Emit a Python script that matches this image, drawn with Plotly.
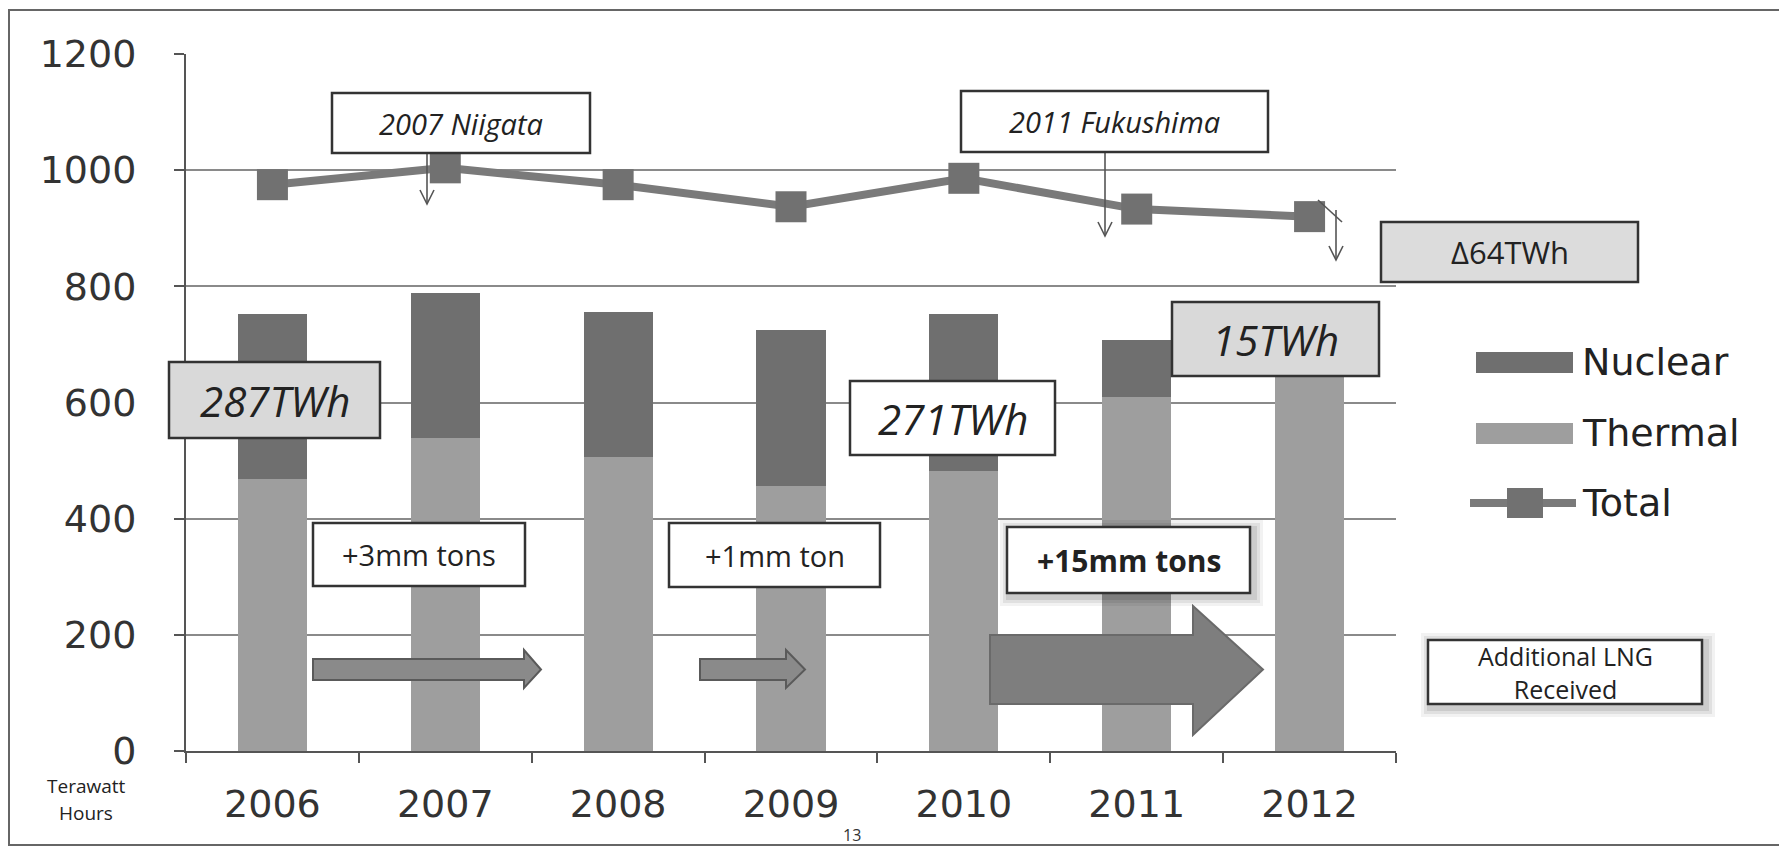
import plotly.graph_objects as go

years = ["2006", "2007", "2008", "2009", "2010", "2011", "2012"]
thermal = [469, 539, 506, 457, 482, 610, 660]
nuclear = [284, 249, 249, 267, 271, 98, 15]
total = [975, 1004, 975, 937, 986, 933, 920]
y_ticks = [0, 200, 400, 600, 800, 1000, 1200]

C_NUC = "#6f6f6f"
C_THE = "#9e9e9e"
C_LINE = "#7a7a7a"
C_MARK = "#717171"

OFF = 8  # page body margin
W, H = 1787 - OFF, 847 - OFF
L, R, T, B = 186, 1396, 54, 751  # plot area in screen pixels
PW, PH = R - L, B - T


def px(x):
    return (x - L) / PW


def py(y):
    return (B - y) / PH


fig = go.Figure()
fig.add_trace(go.Bar(x=years, y=thermal, name="Thermal", marker=dict(color=C_THE, line=dict(width=0))))
fig.add_trace(go.Bar(x=years, y=nuclear, name="Nuclear", marker=dict(color=C_NUC, line=dict(width=0))))
fig.add_trace(go.Scatter(x=years, y=total, name="Total", mode="lines+markers",
                         line=dict(color=C_LINE, width=8),
                         marker=dict(symbol="square", size=31, color=C_MARK)))

shapes = []
annotations = []


def rect(x0, y0, x1, y1, fill="white", line="#333333", lw=2.5, layer="above"):
    shapes.append(dict(type="rect", xref="paper", yref="paper", x0=px(x0), x1=px(x1),
                       y0=py(y1), y1=py(y0), fillcolor=fill, line=dict(color=line, width=lw), layer=layer))


def text(x, y, s, size, family="Open Sans", color="#222222", italic=False, bold=False):
    if italic:
        s = "<i>" + s + "</i>"
    if bold:
        s = "<b>" + s + "</b>"
    annotations.append(dict(x=px(x), y=py(y), xref="paper", yref="paper", text=s, showarrow=False,
                            xanchor="center", yanchor="middle",
                            font=dict(family=family, size=size, color=color)))


def box(x0, y0, x1, y1, s, size, fill="white", italic=False, bold=False, shadow=False, family="Open Sans"):
    if shadow:
        for d, a in [(10, 0.05), (7, 0.07), (4, 0.09)]:
            shapes.append(dict(type="rect", xref="paper", yref="paper", x0=px(x0 - d + 3), x1=px(x1 + d + 3),
                               y0=py(y1 + d + 3), y1=py(y0 - d + 3), fillcolor="rgba(0,0,0,%.2f)" % a,
                               line=dict(width=0), layer="above"))
    rect(x0, y0, x1, y1, fill=fill)
    text((x0 + x1) / 2, (y0 + y1) / 2, s, size, family=family, italic=italic, bold=bold)


def down_arrow(x, y0, y1, color="#555555"):
    shapes.append(dict(type="line", xref="paper", yref="paper", x0=px(x), x1=px(x), y0=py(y0), y1=py(y1),
                       line=dict(color=color, width=1.6), layer="above"))
    path = "M %f %f L %f %f L %f %f" % (px(x - 7), py(y1 - 14), px(x), py(y1), px(x + 7), py(y1 - 14))
    shapes.append(dict(type="path", xref="paper", yref="paper", path=path,
                       line=dict(color=color, width=1.6), layer="above"))


def block_arrow(x0, x1, sy0, sy1, hx, hy0, hy1, fill, line):
    cy = (sy0 + sy1) / 2
    pts = [(x0, sy0), (hx, sy0), (hx, hy0), (x1, cy), (hx, hy1), (hx, sy1), (x0, sy1)]
    path = "M " + " L ".join("%f %f" % (px(a), py(b)) for a, b in pts) + " Z"
    shapes.append(dict(type="path", xref="paper", yref="paper", path=path, fillcolor=fill,
                       line=dict(color=line, width=2), layer="above"))


# outer frame
shapes.append(dict(type="path", xref="paper", yref="paper",
                   path="M %f %f L %f %f L %f %f L %f %f" % (px(1800), py(10), px(9), py(10), px(9), py(845), px(1800), py(845)),
                   line=dict(color="#666666", width=2), layer="below"))

# block arrows
block_arrow(313, 541, 659, 680, 524, 650, 688, "#8a8a8a", "#5a5a5a")
block_arrow(700, 805, 659, 680, 786, 650, 688, "#8a8a8a", "#5a5a5a")
block_arrow(990, 1263, 635, 704, 1193, 606, 735, "#7e7e7e", "#6a6a6a")

# thin arrows
down_arrow(427, 153, 204)
down_arrow(1105, 152, 236)
shapes.append(dict(type="line", xref="paper", yref="paper", x0=px(1318), x1=px(1342), y0=py(200), y1=py(222),
                   line=dict(color="#555555", width=1.6), layer="above"))
down_arrow(1336, 210, 260)

# text boxes
box(332, 93, 590, 153, "2007 Niigata", 29, italic=True)
box(961, 91, 1268, 152, "2011 Fukushima", 29, italic=True)
box(1381, 222, 1638, 282, "Δ64TWh", 31, fill="#dcdcdc")
box(169, 362, 380, 438, "287TWh", 42, fill="#d9d9d9", italic=True)
box(850, 381, 1055, 455, "271TWh", 42, fill="white", italic=True)
box(1172, 302, 1379, 376, "15TWh", 42, fill="#d9d9d9", italic=True)
box(313, 523, 525, 586, "+3mm tons", 29)
box(669, 523, 880, 587, "+1mm ton", 29)
box(1007, 527, 1250, 593, "+15mm tons", 30, bold=True, shadow=True)
box(1428, 640, 1702, 704, "Additional LNG<br>Received", 25, shadow=True)

# custom legend
rect(1476, 352, 1573, 373, fill=C_NUC, line=C_NUC, lw=0)
rect(1476, 423, 1573, 444, fill=C_THE, line=C_THE, lw=0)
shapes.append(dict(type="line", xref="paper", yref="paper", x0=px(1470), x1=px(1576), y0=py(503), y1=py(503),
                   line=dict(color=C_LINE, width=8), layer="above"))
rect(1507, 488, 1543, 518, fill=C_MARK, line=C_MARK, lw=0)
for yy, s in [(362, "Nuclear"), (433, "Thermal"), (503, "Total")]:
    annotations.append(dict(x=px(1580), y=py(yy), xref="paper", yref="paper", text=s, showarrow=False,
                            xanchor="left", yanchor="middle",
                            font=dict(family="DejaVu Sans", size=38, color="#222222")))

# axis title and page number
text(86, 786, "Terawatt", 19)
text(86, 813, "Hours", 19)
annotations.append(dict(x=px(852), y=py(822), xref="paper", yref="paper", text="13", showarrow=False,
                        xanchor="center", yanchor="top", font=dict(family="Open Sans", size=16, color="#333")))

fig.update_layout(
    width=W, height=H,
    margin=dict(l=L - OFF, r=1787 - R, t=T - OFF, b=847 - B, pad=0),
    paper_bgcolor="white", plot_bgcolor="white",
    barmode="stack", bargap=0.6,
    showlegend=False,
    shapes=shapes, annotations=annotations,
    xaxis=dict(type="category", showgrid=False, showline=True, linecolor="#555555", linewidth=2,
               ticks="outside", tickson="boundaries", ticklen=10, tickcolor="#555555", tickwidth=2,
               tickfont=dict(family="DejaVu Sans", size=38, color="#333333"), ticklabelstandoff=18),
    yaxis=dict(range=[0, 1200], tickvals=y_ticks, showgrid=True, gridcolor="#8a8a8a", gridwidth=2,
               showline=True, linecolor="#555555", linewidth=2, zeroline=False,
               ticks="outside", ticklen=10, tickcolor="#555555", tickwidth=2,
               tickfont=dict(family="DejaVu Sans", size=38, color="#333333"), ticklabelstandoff=30),
)

fig.write_html("out.html")
